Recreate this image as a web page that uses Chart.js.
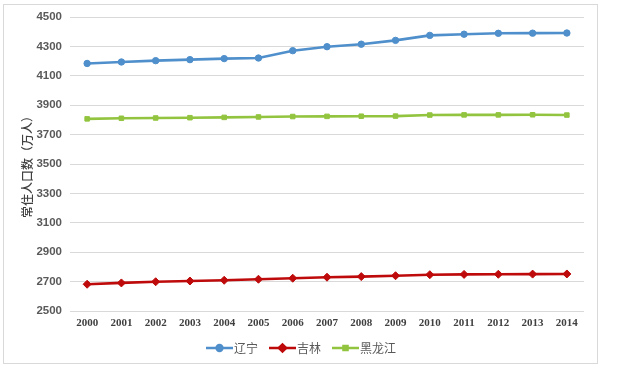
<!DOCTYPE html>
<html>
<head>
<meta charset="utf-8">
<script src="https://cdn.jsdelivr.net/npm/chart.js@4/dist/chart.umd.min.js"></script>
<style>
html,body{margin:0;padding:0;background:#fff;}
#wrap{position:relative;width:625px;height:385px;}
</style>
</head>
<body>
<div id="wrap"><canvas id="c" width="625" height="385"></canvas></div>
<script>
const years = ['2000','2001','2002','2003','2004','2005','2006','2007','2008','2009','2010','2011','2012','2013','2014'];
const seriesNames = ['辽宁','吉林','黑龙江'];
const liaoning = [4184,4194,4203,4210,4217,4221,4271,4298,4315,4341,4375,4383,4389,4390,4391];
const jilin = [2682,2691,2699,2704,2709,2716,2723,2730,2734,2740,2747,2749,2750,2751,2752];
const heilongjiang = [3807,3811,3813,3815,3817,3820,3823,3824,3825,3826,3833,3834,3834,3835,3833];
const yTicks = [2500,2700,2900,3100,3300,3500,3700,3900,4100,4300,4500];
const yTitle = '常住人口数（万人）';

const colors = ['#4F8FCB','#BE0A0A','#92C43F'];
const styles = ['circle','rectRot','rect'];
const radii = [3.2,4,3.2];

const borderPlugin = {
  id:'outerBorder',
  beforeDraw(chart){
    const ctx = chart.ctx;
    ctx.save();
    ctx.fillStyle='#fff';
    ctx.fillRect(0,0,chart.width,chart.height);
    ctx.strokeStyle='#d9d9d9';
    ctx.lineWidth=1;
    ctx.strokeRect(3.5,4.5,594,359);
    ctx.restore();
  }
};

const legendPlugin = {
  id:'customLegend',
  afterDraw(chart){
    const ctx = chart.ctx;
    ctx.save();
    ctx.font = '12px "Noto Sans CJK SC"';
    const lineW = 27, gapT = 1, gapI = 11;
    const widths = seriesNames.map(n=>ctx.measureText(n).width);
    let total = 0;
    widths.forEach((w,i)=>{ total += lineW + gapT + w + (i<widths.length-1?gapI:0); });
    let x = 301 - total/2;
    const y = 348;
    chart.data.datasets.forEach((ds,i)=>{
      ctx.strokeStyle = ds.borderColor;
      ctx.lineWidth = 2.5;
      ctx.beginPath(); ctx.moveTo(x,y); ctx.lineTo(x+lineW,y); ctx.stroke();
      Chart.helpers.drawPoint(ctx,{pointStyle:ds.pointStyle,radius:ds.pointRadius*0.9,borderWidth:1,rotation:0},x+lineW/2,y);
      ctx.fillStyle = ds.borderColor;
      ctx.fill();
      ctx.fillStyle = '#595959';
      ctx.textBaseline = 'middle';
      ctx.textAlign = 'left';
      ctx.fillText(seriesNames[i], x+lineW+gapT, y);
      x += lineW + gapT + widths[i] + gapI;
    });
    ctx.restore();
  }
};

const dataArrays = [liaoning, jilin, heilongjiang];
new Chart(document.getElementById('c'), {
  type:'line',
  data:{
    labels: years,
    datasets: dataArrays.map((d,i)=>({
      label: seriesNames[i],
      data: d,
      borderColor: colors[i],
      backgroundColor: colors[i],
      pointBackgroundColor: colors[i],
      pointBorderColor: colors[i],
      pointStyle: styles[i],
      pointRadius: radii[i],
      pointBorderWidth: 1,
      borderWidth: 2.6,
      tension: 0,
      fill:false
    }))
  },
  options:{
    responsive:false,
    animation:false,
    devicePixelRatio:1,
    layout:{padding:{left:0,right:41,top:17,bottom:0}},
    plugins:{legend:{display:false},tooltip:{enabled:false},title:{display:false}},
    scales:{
      x:{
        offset:true,
        grid:{display:false,drawTicks:false},
        border:{display:false},
        ticks:{color:'#404040',font:{family:'"Liberation Serif"',weight:'bold',size:11},padding:6,maxRotation:0,autoSkip:false},
        afterFit(s){ s.height = 74; }
      },
      y:{
        min:2500,max:4500,
        afterBuildTicks(s){ s.ticks = yTicks.map(v=>({value:v})); },
        grid:{color:'#d9d9d9',lineWidth:1,drawTicks:false},
        border:{display:false},
        ticks:{color:'#595959',font:{family:'"Liberation Sans"',weight:'bold',size:11.5},padding:8,callback:(v)=>String(v)},
        title:{display:true,text:yTitle,color:'#404040',font:{family:'"Noto Sans CJK SC"',size:12,weight:'500'},padding:{top:20,bottom:0}},
        afterFit(s){ s.width = 70; }
      }
    }
  },
  plugins:[borderPlugin,legendPlugin]
});
</script>
</body>
</html>
